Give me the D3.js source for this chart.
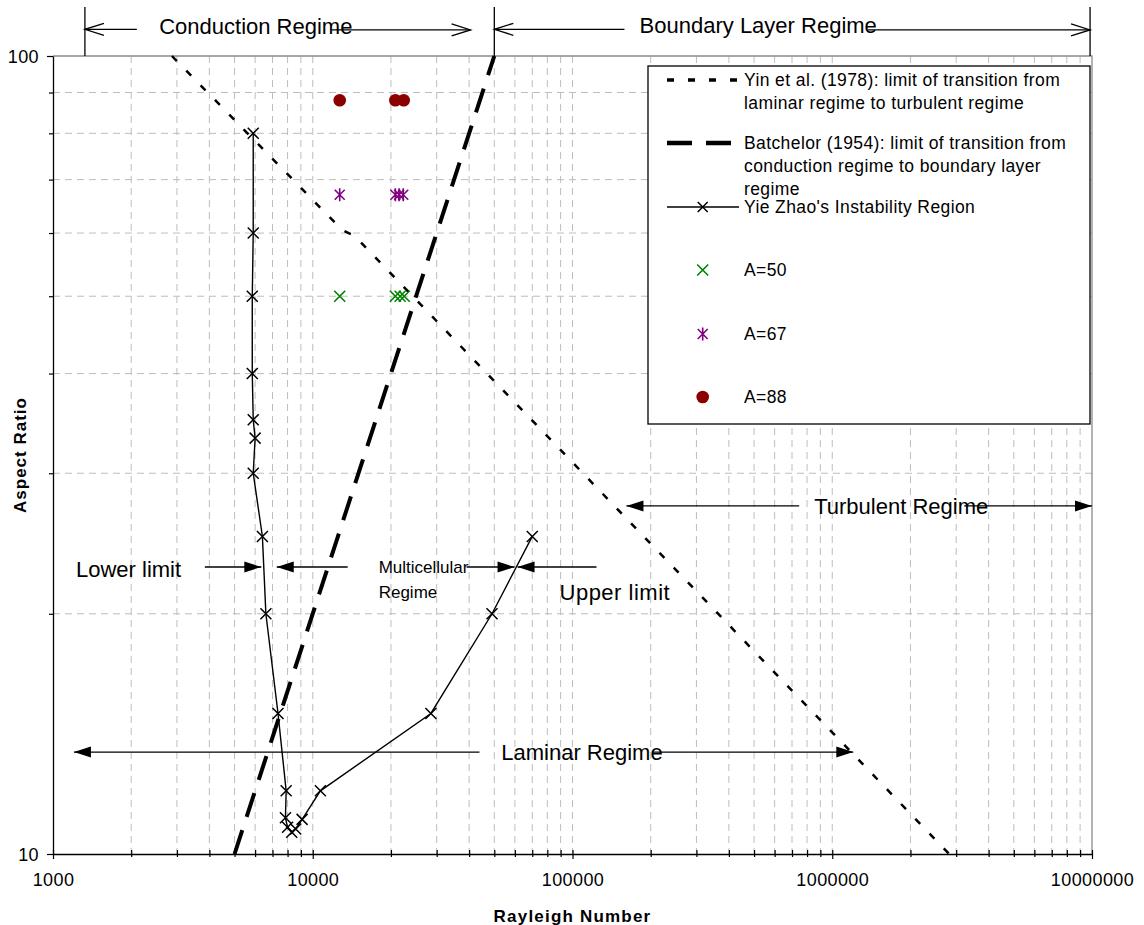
<!DOCTYPE html>
<html><head><meta charset="utf-8">
<script src="https://cdn.jsdelivr.net/npm/d3@7"></script>
<style>body{margin:0;background:#fff}</style>
</head><body><svg id="c" width="1144" height="925"></svg>
<script>
// ---------- data ----------
const xDomain = [1000, 1e7];
const yDomain = [10, 100];
const xMajorTicks = [1000, 10000, 100000, 1000000, 10000000];
const xTickLabels = ["1000", "10000", "100000", "1000000", "10000000"];
const yTicks = [10, 20, 30, 40, 50, 60, 70, 80, 90, 100];
const yTickLabels = ["10", "", "", "", "", "", "", "", "", "100"];

const yinRa = [2870, 13000, 14500, 2820000];
const yinA  = [100, 60.5, 59.5, 10];
const batchelorRa = [5000, 50000];
const batchelorA  = [10, 100];
const zhaoRa = [5900, 5900, 5850, 5850, 5900, 6000, 5900, 6400, 6600, 7350, 7900, 7850, 8000, 8300, 8600, 9100, 10700, 28500, 49000, 70000];
const zhaoA  = [80, 60, 50, 40, 35, 33.2, 30, 25, 20, 15, 12, 11.1, 10.8, 10.65, 10.75, 11.05, 12, 15, 20, 25];
const a50Ra = [12700, 20800, 21700, 22500];
const a50A  = [50, 50, 50, 50];
const a67Ra = [12700, 20800, 21500, 22300];
const a67A  = [67, 67, 67, 67];
const a88Ra = [12700, 20800, 22400];
const a88A  = [88, 88, 88];

const legendLabels = [
  ["Yin et al. (1978): limit of transition from", "laminar regime to turbulent regime"],
  ["Batchelor (1954): limit of transition from", "conduction regime to boundary layer", "regime"],
  ["Yie Zhao's Instability Region"],
  ["A=50"], ["A=67"], ["A=88"]
];

// ---------- setup ----------
const FONT = "'Liberation Sans', Arial, Helvetica, sans-serif";
const svg = d3.select("#c").style("font-family", FONT);
const L = 53, R = 1092, T = 56, B = 854;
const x = d3.scaleLog().domain(xDomain).range([L, R]);
const y = d3.scaleLog().domain(yDomain).range([B, T]);

const xAll = [];
xMajorTicks.slice(0, -1).forEach(d => { for (let k = 1; k < 10; k++) xAll.push(k * d); });
xAll.push(xMajorTicks[xMajorTicks.length - 1]);

// ---------- grid ----------
const grid = svg.append("g").attr("stroke", "#bdbdbd").attr("stroke-width", 1).attr("stroke-dasharray", "7,5");
grid.selectAll(".vg").data(xAll.filter(v => v > xDomain[0] && v < xDomain[1])).join("line")
  .attr("x1", d => x(d)).attr("x2", d => x(d)).attr("y1", T).attr("y2", B);
grid.selectAll(".hg").data(yTicks.filter(v => v > yDomain[0] && v < yDomain[1])).join("line")
  .attr("x1", L).attr("x2", R).attr("y1", d => y(d)).attr("y2", d => y(d));

// plot border (top/right)
svg.append("path").attr("d", `M${L},${T}H${R}V${B}`).attr("fill", "none").attr("stroke", "#8a8a8a").attr("stroke-width", 1.3);

// ---------- axes ----------
const gx = svg.append("g").attr("transform", `translate(0,${B})`)
  .call(d3.axisBottom(x).tickValues(xAll).tickSizeOuter(0)
    .tickFormat(v => { const i = xMajorTicks.indexOf(v); return i >= 0 ? xTickLabels[i] : ""; }));
gx.select(".domain").attr("stroke", "#000").attr("stroke-width", 1.3);
gx.selectAll(".tick line").attr("stroke", "#000").attr("stroke-width", 1.2)
  .attr("y1", -4).attr("y2", d => xMajorTicks.includes(d) ? 5 : 3);
gx.selectAll(".tick text").attr("y", 32).attr("dy", "0").attr("fill", "#000")
  .style("font-family", FONT).style("font-size", "18px").style("letter-spacing", "0.4px");

const gy = svg.append("g").attr("transform", `translate(${L},0)`)
  .call(d3.axisLeft(y).tickValues(yTicks).tickSizeOuter(0)
    .tickFormat(v => yTickLabels[yTicks.indexOf(v)]));
gy.select(".domain").attr("stroke", "#000").attr("stroke-width", 1.3);
gy.selectAll(".tick line").attr("stroke", "#000").attr("stroke-width", 1.2)
  .attr("x2", d => (d === 10 || d === 100) ? -6 : -4);
gy.selectAll(".tick text").attr("x", -14).attr("dy", "0.35em").attr("fill", "#000")
  .style("font-family", FONT).style("font-size", "18px").style("letter-spacing", "0.4px");

// axis titles
svg.append("text").attr("x", (L + R) / 2).attr("y", 922).attr("text-anchor", "middle")
  .style("font-size", "17px").style("font-weight", "bold").style("letter-spacing", "1.2px").text("Rayleigh Number");
svg.append("text").attr("transform", `translate(26,${(T + B) / 2}) rotate(-90)`).attr("text-anchor", "middle")
  .style("font-size", "17px").style("font-weight", "bold").style("letter-spacing", "1px").text("Aspect Ratio");

// ---------- series ----------
const line = d3.line().x(d => x(d[0])).y(d => y(d[1]));
const zip = (a, b) => a.map((v, i) => [v, b[i]]);

svg.append("path").datum(zip(yinRa, yinA)).attr("d", line)
  .attr("fill", "none").attr("stroke", "#000").attr("stroke-width", 2.5).attr("stroke-dasharray", "7,13.5");
svg.append("path").datum(zip(batchelorRa, batchelorA)).attr("d", line)
  .attr("fill", "none").attr("stroke", "#000").attr("stroke-width", 4).attr("stroke-dasharray", "25,14");
svg.append("path").datum(zip(zhaoRa, zhaoA)).attr("d", line)
  .attr("fill", "none").attr("stroke", "#000").attr("stroke-width", 1.4);

const crossPath = s => `M${-s},${-s}L${s},${s}M${-s},${s}L${s},${-s}`;
const starPath = s => `M${-s},${-s}L${s},${s}M${-s},${s}L${s},${-s}M0,${-s * 1.3}L0,${s * 1.3}`;

svg.append("g").selectAll("path").data(zip(zhaoRa, zhaoA)).join("path")
  .attr("transform", d => `translate(${x(d[0])},${y(d[1])})`).attr("d", crossPath(5.5))
  .attr("stroke", "#000").attr("stroke-width", 1.5).attr("fill", "none");
svg.append("g").selectAll("path").data(zip(a50Ra, a50A)).join("path")
  .attr("transform", d => `translate(${x(d[0])},${y(d[1])})`).attr("d", crossPath(5.5))
  .attr("stroke", "#008000").attr("stroke-width", 1.6).attr("fill", "none");
svg.append("g").selectAll("path").data(zip(a67Ra, a67A)).join("path")
  .attr("transform", d => `translate(${x(d[0])},${y(d[1])})`).attr("d", starPath(5))
  .attr("stroke", "#800080").attr("stroke-width", 1.6).attr("fill", "none");
svg.append("g").selectAll("circle").data(zip(a88Ra, a88A)).join("circle")
  .attr("cx", d => x(d[0])).attr("cy", d => y(d[1])).attr("r", 6.3).attr("fill", "#8b0000");

// ---------- annotations (positions given in data units) ----------
const ann = svg.append("g").attr("stroke", "#000").attr("stroke-width", 1.3).attr("fill", "none");
const P = (ra, a) => [x(ra), y(a)];
function seg(p, q) { ann.append("line").attr("x1", p[0]).attr("y1", p[1]).attr("x2", q[0]).attr("y2", q[1]); }
function openHead(tip, dir) {
  const [tx, ty] = tip;
  ann.append("path").attr("d", `M${tx - dir * 19},${ty - 6}L${tx},${ty}L${tx - dir * 19},${ty + 6}`);
}
function solidHead(tip, dir) {
  const [tx, ty] = tip;
  svg.append("path").attr("d", `M${tx},${ty}L${tx - dir * 17},${ty - 5.5}L${tx - dir * 17},${ty + 5.5}Z`).attr("fill", "#000");
}
function label(ra, a, txt, size, anchor, ls) {
  svg.append("text").attr("x", x(ra)).attr("y", y(a)).attr("dy", "0.35em")
    .attr("text-anchor", anchor || "middle").style("font-size", size + "px")
    .style("letter-spacing", (ls || 0) + "px").text(txt);
}

// top: Conduction / Boundary layer
const topA = 115.2, arrowA = 108.0;
seg(P(1327, 100), P(1327, topA));
seg(P(50000, 100), P(50000, topA));
seg(P(9.83e6, 100), P(9.83e6, topA));
seg(P(1327, arrowA), P(2103, arrowA)); openHead(P(1327, arrowA), -1);
label(6037, 109.0, "Conduction Regime", 22);
seg(P(11830, 107.8), P(40520, 107.8)); openHead(P(40520, 107.8), 1);
seg(P(50000, arrowA), P(158500, arrowA)); openHead(P(50000, arrowA), -1);
label(518800, 109.3, "Boundary Layer Regime", 22);
seg(P(1.374e6, 107.8), P(9.83e6, 107.8)); openHead(P(9.83e6, 107.8), 1);

// Turbulent regime
const turbA = 27.3;
seg(P(161300, turbA), P(746000, turbA)); solidHead(P(161300, turbA), -1);
label(1.843e6, turbA, "Turbulent Regime", 22);
seg(P(3.22e6, turbA), P(1e7, turbA)); solidHead(P(1e7, turbA), 1);

// Lower / multicellular / upper
const midA = 22.89;
label(1226, 22.76, "Lower limit", 22, "start");
seg(P(3842, midA), P(6339, midA)); solidHead(P(6339, midA), 1);
seg(P(7268, midA), P(13630, midA)); solidHead(P(7268, midA), -1);
label(17940, midA, "Multicellular", 17, "start");
label(17940, 21.3, "Regime", 17, "start");
seg(P(39110, midA), P(59840, midA)); solidHead(P(59840, midA), 1);
seg(P(61440, midA), P(123700, midA)); solidHead(P(61440, midA), -1);
label(89130, 21.3, "Upper limit", 22, "start", 0.5);

// Laminar regime
const lamA = 13.42;
seg(P(1204, lamA), P(43850, lamA)); solidHead(P(1204, lamA), -1);
label(108750, lamA, "Laminar Regime", 22);
seg(P(203000, lamA), P(1.205e6, lamA)); solidHead(P(1.205e6, lamA), 1);

// ---------- legend ----------
const lg = svg.append("g");
lg.append("rect").attr("x", 648).attr("y", 66).attr("width", 442).attr("height", 358)
  .attr("fill", "#fff").attr("stroke", "#000").attr("stroke-width", 1.3);
const sx0 = 667, sx1 = 738, sxm = 702.7, tx = 744;
const rowY = [80, 143, 207, 270, 334, 397];
const lineGap = 22.8;
legendLabels.forEach((lines, i) => {
  const t = lg.append("text").attr("x", tx).attr("y", rowY[i]).attr("dy", "0.35em")
    .style("font-size", "17.5px").style("letter-spacing", "0.4px");
  lines.forEach((s, j) => t.append("tspan").attr("x", tx).attr("dy", j === 0 ? "0.35em" : lineGap).text(s));
});
lg.append("line").attr("x1", sx0).attr("x2", sx1).attr("y1", rowY[0]).attr("y2", rowY[0])
  .attr("stroke", "#000").attr("stroke-width", 3.5).attr("stroke-dasharray", "7,14");
lg.append("line").attr("x1", sx0).attr("x2", sx1).attr("y1", rowY[1]).attr("y2", rowY[1])
  .attr("stroke", "#000").attr("stroke-width", 4.5).attr("stroke-dasharray", "25,14");
lg.append("line").attr("x1", sx0).attr("x2", sx1 + 1).attr("y1", rowY[2]).attr("y2", rowY[2])
  .attr("stroke", "#000").attr("stroke-width", 1.4);
lg.append("path").attr("transform", `translate(${sxm},${rowY[2]})`).attr("d", crossPath(5)).attr("stroke", "#000").attr("stroke-width", 1.5);
lg.append("path").attr("transform", `translate(${sxm},${rowY[3]})`).attr("d", crossPath(5.5)).attr("stroke", "#008000").attr("stroke-width", 1.6);
lg.append("path").attr("transform", `translate(${sxm},${rowY[4]})`).attr("d", starPath(5)).attr("stroke", "#800080").attr("stroke-width", 1.6);
lg.append("circle").attr("cx", sxm).attr("cy", rowY[5]).attr("r", 6.3).attr("fill", "#8b0000");
</script>
</body></html>
